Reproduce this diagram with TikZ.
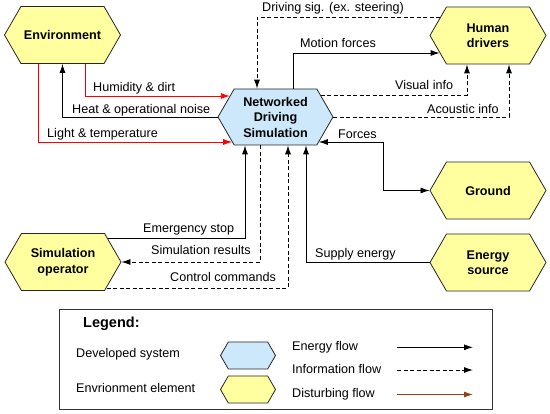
\documentclass[tikz,border=0pt]{standalone}
\usepackage{fontspec}
\setmainfont{Liberation Sans}
\usetikzlibrary{shapes.symbols,arrows.meta,calc}
\definecolor{hexyellow}{RGB}{255,255,160}
\definecolor{hexblue}{RGB}{205,232,250}
\definecolor{disturb}{RGB}{140,70,20}
\begin{document}
\begin{tikzpicture}[x=1pt,y=-1pt,
  every node/.style={font=\fontsize{12.6}{15.5}\selectfont},
  hexa/.style={shape=signal, signal to=west and east, signal pointer angle=120,
    draw=black!85, line width=0.8pt, minimum width=116pt, minimum height=57pt,
    inner sep=0pt, align=center, font=\fontsize{12.6}{15.5}\selectfont\bfseries},
  envel/.style={hexa, fill=hexyellow},
  devel/.style={hexa, fill=hexblue},
  smallhex/.style={shape=signal, signal to=west and east, signal pointer angle=120,
    draw=black!85, line width=0.8pt, minimum width=55pt, minimum height=27pt, inner sep=0pt},
  flow/.style={line width=0.9pt, -{Latex[length=9pt,width=6pt]}},
  energy/.style={flow, black},
  info/.style={flow, black, dash pattern=on 4pt off 2.5pt},
  disturbing/.style={flow, red},
  lbl/.style={anchor=base west, inner sep=0pt},
]
\useasboundingbox (0,0) rectangle (550,414);

% nodes
\node[envel] (env) at (62.5,35) {Environment};
\node[devel, minimum width=115pt, minimum height=56pt] (sim) at (275.5,117) {Networked\\Driving\\Simulation};
\node[envel] (hum) at (488,35.5) {Human\\drivers};
\node[envel] (gnd) at (488,190.5) {Ground};
\node[envel] (eng) at (488,262.5) {Energy\\source};
\node[envel] (op) at (63,262) {Simulation\\operator};

% connectors
\draw[disturbing] ($(env.south)+(22.5,0)$) |- ($(sim.west)+(12.3,-21)$);
\draw[energy] (sim.west) -| (env.south);
\draw[disturbing] ($(env.south)+(-24.5,0)$) |- ($(sim.west)+(14.7,25)$);
\draw[info] ($(hum.west)+(10.7,-18.5)$) -| ($(sim.north)+(-18.5,0)$);
\draw[energy] ($(sim.north)+(17.5,0)$) |- ($(hum.west)+(10.1,17.5)$);
\draw[info] ($(sim.east)+(-12.9,-22)$) -| ($(hum.south)+(-21,0)$);
\draw[info] (sim.east) -| ($(hum.south)+(21,0)$);
\draw[energy, {Latex[length=9pt,width=6pt]}-{Latex[length=9pt,width=6pt]}] ($(sim.east)+(-14.7,25)$) -- ++(65,0) |- (gnd.west);
\draw[energy] (eng.west) -| ($(sim.south)+(30.5,0)$);
\draw[info] ($(op.east)+(-14.7,26)$) -| ($(sim.south)+(12.5,0)$);
\draw[energy] ($(op.east)+(-13.9,-24)$) -| ($(sim.south)+(-30.5,0)$);
\draw[info] ($(sim.south)+(-15.5,0)$) |- (op.east);

% labels
\node[lbl] (l1) at (93,92) {Humidity \& dirt};
\node[lbl] (l2) at (72,114) {Heat \& operational noise};
\node[lbl] (l3) at (47,138) {Light \& temperature};
\node[lbl] (l4) at (262,12) {Driving sig. (ex. steering)};
\node[lbl] (l5) at (300,48) {Motion forces};
\node[lbl] (l6) at (395,90) {Visual info};
\node[lbl] (l7) at (427,114) {Acoustic info};
\node[lbl] (l8) at (338,139) {Forces};
\node[lbl] (l9) at (315,257.5) {Supply energy};
\node[lbl] (l10) at (143,233) {Emergency stop};
\node[lbl] (l11) at (151,255) {Simulation results};
\node[lbl] (l12) at (170,282) {Control commands};

% legend
\node[draw=black!80, line width=0.8pt, minimum width=433pt, minimum height=100pt, inner sep=0pt] (leg) at (275.5,359) {};
\node[lbl, font=\fontsize{14.5}{16}\selectfont\bfseries] (legt) at (83,328) {Legend:};
\node[lbl] (ld) at (76,358) {Developed system};
\node[lbl] (le) at (76,393) {Envrionment element};
\node[smallhex, fill=hexblue] (hb) at (248,355.5) {};
\node[smallhex, fill=hexyellow] (hy) at (248,389.5) {};
\node[lbl] (lef) at (292,351) {Energy flow};
\node[lbl] (lif) at (292,374) {Information flow};
\node[lbl] (ldf) at (292,398) {Disturbing flow};
\coordinate (a1) at (397,347.3); \coordinate (b1) at (473,347.3);
\coordinate (a2) at (397,370); \coordinate (b2) at (473,370);
\coordinate (a3) at (397,394.5); \coordinate (b3) at (473,394.5);
\draw[energy] (a1) -- (b1);
\draw[info] (a2) -- (b2);
\draw[flow, disturb] (a3) -- (b3);
\end{tikzpicture}
\end{document}
